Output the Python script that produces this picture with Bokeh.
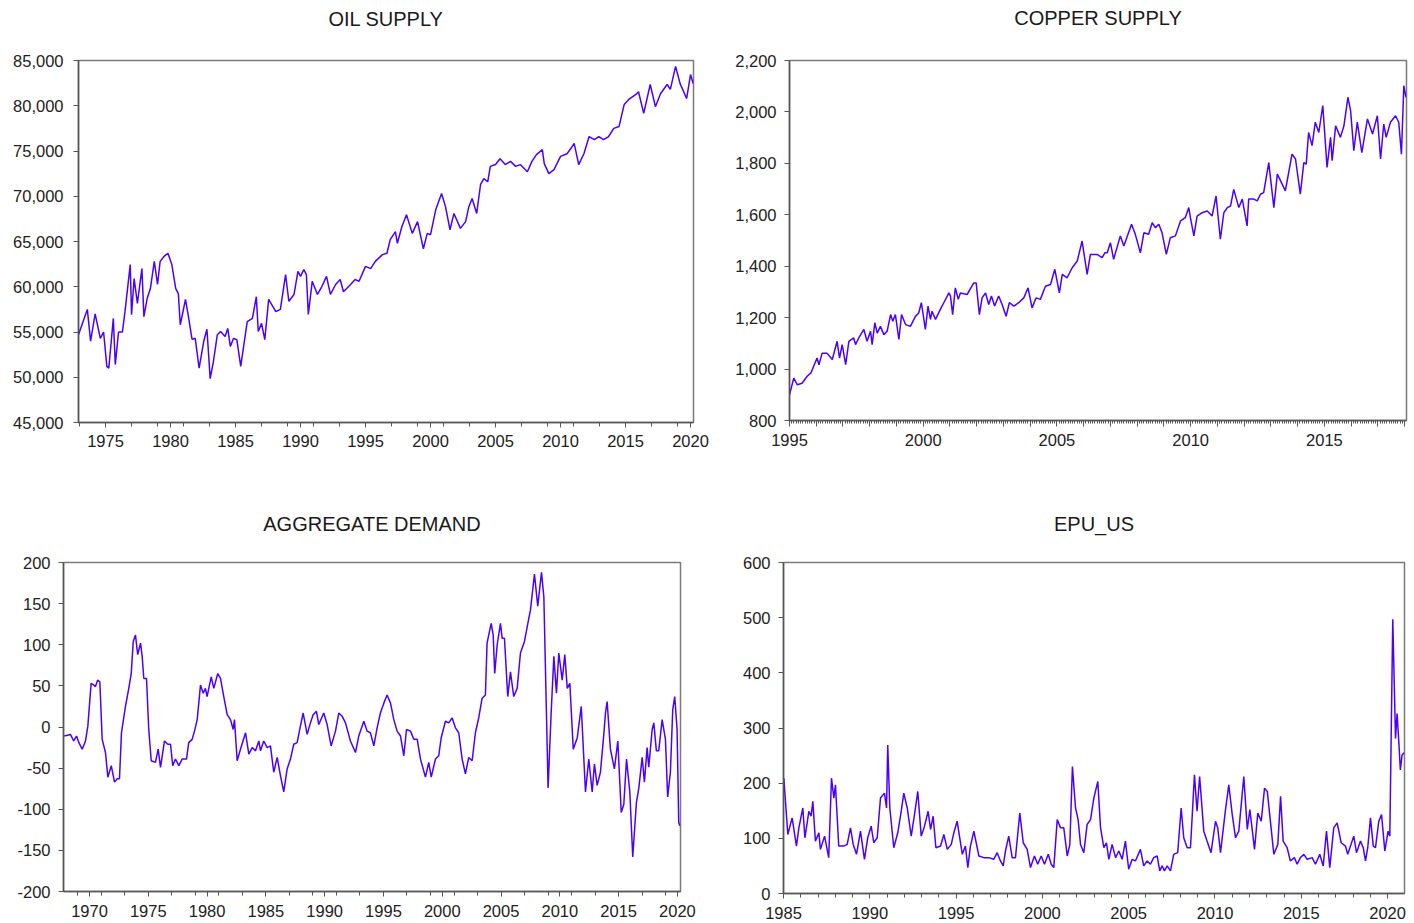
from bokeh.plotting import figure
from bokeh.layouts import row, column
from bokeh.models import (Range1d, FixedTicker, NumeralTickFormatter,
                          CustomJSTickFormatter, ColumnDataSource, Title)
from bokeh.embed import file_html
from bokeh.resources import INLINE

# ---------------- data ----------------
oil_t = [1972.92, 1973.6, 1973.85, 1974.2, 1974.6, 1974.85, 1975.1, 1975.25, 1975.6, 1975.75,
         1976.0, 1976.3, 1976.5, 1976.9, 1977.0, 1977.2, 1977.45, 1977.8, 1977.95, 1978.2,
         1978.45, 1978.75, 1979.0, 1979.2, 1979.5, 1979.8, 1980.1, 1980.4, 1980.6, 1980.75,
         1981.15, 1981.4, 1981.65, 1981.9, 1982.2, 1982.55, 1982.8, 1983.05, 1983.3, 1983.6,
         1983.85, 1984.2, 1984.4, 1984.6, 1984.85, 1985.1, 1985.4, 1985.6, 1985.9, 1986.3,
         1986.6, 1986.75, 1987.0, 1987.25, 1987.55, 1988.1, 1988.45, 1988.85, 1989.1, 1989.5,
         1989.8, 1990.0, 1990.25, 1990.45, 1990.6, 1990.9, 1991.3, 1991.65, 1992.0, 1992.3,
         1992.7, 1993.05, 1993.3, 1993.85, 1994.2, 1994.5, 1995.0, 1995.4, 1995.75, 1996.3,
         1996.65, 1996.9, 1997.3, 1997.45, 1997.8, 1998.15, 1998.6, 1999.0, 1999.45, 1999.75,
         2000.0, 2000.4, 2000.85, 2001.15, 2001.5, 2001.8, 2002.3, 2002.7, 2002.95, 2003.2,
         2003.55, 2003.85, 2004.1, 2004.4, 2004.6, 2005.0, 2005.35, 2005.75, 2006.15, 2006.55,
         2006.9, 2007.45, 2007.8, 2008.15, 2008.6, 2008.75, 2009.1, 2009.5, 2010.0, 2010.5,
         2010.9, 2011.05, 2011.4, 2011.8, 2012.2, 2012.6, 2012.95, 2013.3, 2013.7, 2014.1,
         2014.5, 2014.9, 2015.25, 2015.8, 2016.0, 2016.4, 2016.9, 2017.3, 2017.7, 2018.2,
         2018.45, 2018.85, 2019.2, 2019.7, 2020.0, 2020.2]
oil_v = [54700, 57500, 54000, 57000, 54300, 55000, 51200, 51000, 56500, 51400,
         55000, 55000, 57300, 62450, 56900, 60900, 58150, 62000, 56700, 58700,
         59800, 62800, 60250, 62800, 63350, 63700, 62450, 59800, 59250, 55800,
         58600, 56500, 54200, 54300, 51000, 53950, 55300, 49850, 51750, 54700,
         55050, 54500, 55400, 53400, 54300, 54150, 51200, 53200, 56150, 56500,
         58900, 55050, 55950, 54150, 58600, 57250, 57500, 61350, 58400, 59150,
         61700, 61150, 61900, 61350, 56950, 60600, 59150, 60050, 61150, 59150,
         60250, 60800, 59450, 60250, 60800, 60600, 62250, 62000, 62800, 63550,
         63700, 65200, 66100, 64800, 66650, 67950, 65900, 67200, 64200, 65900,
         65750, 68500, 70300, 68850, 66300, 68100, 66450, 67200, 68850, 69750,
         68100, 71300, 71950, 71600, 73300, 73500, 74150, 73500, 73850, 73300,
         73500, 72700, 73850, 74600, 75150, 73600, 72500, 72950, 74400, 74700,
         75500, 75850, 73500, 74700, 76600, 76250, 76600, 76250, 76600, 77500,
         77700, 80150, 80700, 81250, 81550, 79150, 82350, 79900, 81350, 82350,
         81800, 84350, 82450, 80800, 83450, 82450]

copper_t = [1995.0, 1995.16, 1995.29, 1995.47, 1995.66, 1995.8, 1995.9, 1996.03, 1996.1, 1996.22,
            1996.4, 1996.6, 1996.78, 1996.87, 1996.97, 1997.1, 1997.22, 1997.4, 1997.47, 1997.59,
            1997.78, 1997.9, 1998.03, 1998.09, 1998.19, 1998.28, 1998.4, 1998.53, 1998.65, 1998.78,
            1998.86, 1998.96, 1999.09, 1999.19, 1999.34, 1999.52, 1999.71, 1999.83, 1999.93, 2000.08,
            2000.18, 2000.27, 2000.33, 2000.46, 2000.64, 2000.77, 2000.96, 2001.02, 2001.1, 2001.2,
            2001.31, 2001.39, 2001.64, 2001.89, 2001.98, 2002.1, 2002.2, 2002.33, 2002.45, 2002.55,
            2002.67, 2002.82, 2002.95, 2003.1, 2003.22, 2003.39, 2003.57, 2003.76, 2003.92, 2004.07,
            2004.22, 2004.38, 2004.57, 2004.76, 2004.92, 2005.09, 2005.2, 2005.38, 2005.57, 2005.76,
            2005.94, 2006.13, 2006.25, 2006.5, 2006.69, 2006.79, 2006.88, 2007.0, 2007.12, 2007.37,
            2007.5, 2007.79, 2007.93, 2008.12, 2008.25, 2008.43, 2008.56, 2008.68, 2008.81, 2008.93,
            2009.09, 2009.24, 2009.43, 2009.62, 2009.8, 2009.93, 2009.99, 2010.12, 2010.24, 2010.43,
            2010.62, 2010.8, 2010.95, 2011.11, 2011.24, 2011.37, 2011.49, 2011.61, 2011.8, 2011.93,
            2012.11, 2012.17, 2012.36, 2012.49, 2012.61, 2012.73, 2012.92, 2013.11, 2013.24, 2013.42,
            2013.54, 2013.79, 2013.92, 2014.1, 2014.23, 2014.32, 2014.41, 2014.54, 2014.66, 2014.79,
            2014.94, 2015.1, 2015.23, 2015.29, 2015.42, 2015.6, 2015.73, 2015.88, 2015.98, 2016.1,
            2016.23, 2016.4, 2016.61, 2016.8, 2016.98, 2017.1, 2017.22, 2017.31, 2017.47, 2017.66,
            2017.78, 2017.88, 2017.97, 2018.05]
copper_v = [900, 965, 939, 945, 972, 985, 1010, 1043, 1017, 1062,
            1062, 1037, 1108, 1043, 1095, 1017, 1108, 1121, 1095, 1121,
            1154, 1108, 1147, 1095, 1180, 1140, 1166, 1134, 1147, 1212,
            1186, 1212, 1115, 1212, 1173, 1166, 1205, 1218, 1258, 1154,
            1245, 1193, 1225, 1193, 1232, 1258, 1296, 1284, 1212, 1316,
            1271, 1296, 1290, 1335, 1335, 1212, 1277, 1296, 1251, 1284,
            1245, 1284, 1251, 1205, 1258, 1245, 1258, 1277, 1316, 1238,
            1277, 1271, 1322, 1329, 1388, 1296, 1368, 1355, 1394, 1420,
            1498, 1368, 1446, 1446, 1433, 1452, 1452, 1491, 1427, 1518,
            1479, 1563, 1524, 1452, 1530, 1524, 1569, 1550, 1563, 1530,
            1446, 1511, 1518, 1576, 1589, 1628, 1589, 1518, 1595, 1608,
            1615, 1595, 1673, 1505, 1608, 1628, 1634, 1699, 1628, 1661,
            1557, 1661, 1661, 1654, 1680, 1686, 1803, 1628, 1758, 1719,
            1693, 1836, 1817, 1680, 1803, 1797, 1920, 1869, 1960, 1920,
            2025, 1784, 1901, 1810, 1946, 1901, 1946, 2057, 2005, 1849,
            1960, 1842, 1973, 1914, 1985, 1817, 1953, 1901, 1960, 1985,
            1960, 1836, 2102, 2057]

demand_t = [1967.85, 1968.38, 1968.66, 1968.9, 1969.1, 1969.38, 1969.66, 1969.86, 1970.14, 1970.37,
            1970.5, 1970.7, 1970.88, 1971.08, 1971.36, 1971.56, 1971.85, 1972.13, 1972.36, 1972.55,
            1972.72, 1973.06, 1973.34, 1973.55, 1973.72, 1973.91, 1974.1, 1974.34, 1974.48, 1974.62,
            1974.85, 1975.04, 1975.25, 1975.61, 1975.84, 1976.04, 1976.38, 1976.66, 1976.89, 1977.08,
            1977.31, 1977.6, 1977.88, 1978.25, 1978.44, 1978.73, 1978.93, 1979.16, 1979.44, 1979.67,
            1979.86, 1980.0, 1980.35, 1980.57, 1980.91, 1981.14, 1981.42, 1981.71, 1981.99, 1982.22,
            1982.33, 1982.56, 1982.84, 1983.27, 1983.55, 1983.84, 1984.12, 1984.4, 1984.54, 1984.82,
            1985.11, 1985.39, 1985.67, 1985.96, 1986.24, 1986.52, 1986.81, 1987.09, 1987.37, 1987.66,
            1987.88, 1988.17, 1988.51, 1988.79, 1989.02, 1989.3, 1989.5, 1989.92, 1990.21, 1990.55,
            1990.92, 1991.2, 1991.49, 1991.77, 1992.19, 1992.62, 1992.9, 1993.33, 1993.61, 1993.89,
            1994.18, 1994.46, 1994.74, 1995.03, 1995.31, 1995.6, 1995.88, 1996.16, 1996.45, 1996.73,
            1996.96, 1997.3, 1997.58, 1997.87, 1998.15, 1998.57, 1998.85, 1999.06, 1999.42, 1999.7,
            1999.91, 2000.27, 2000.55, 2000.84, 2001.12, 2001.4, 2001.69, 2001.97, 2002.25, 2002.54,
            2002.82, 2003.1, 2003.39, 2003.67, 2003.81, 2004.16, 2004.33, 2004.46, 2004.67, 2004.95,
            2005.09, 2005.29, 2005.57, 2005.8, 2006.08, 2006.37, 2006.65, 2006.99, 2007.36, 2007.5,
            2007.84, 2008.12, 2008.44, 2008.64, 2009.0, 2009.26, 2009.49, 2009.71, 2009.91, 2010.2,
            2010.42, 2010.63, 2010.85, 2011.14, 2011.48, 2011.82, 2012.18, 2012.46, 2012.75, 2012.94,
            2013.17, 2013.45, 2013.74, 2013.88, 2014.02, 2014.3, 2014.64, 2014.93, 2015.22, 2015.44,
            2015.67, 2015.95, 2016.2, 2016.51, 2016.71, 2017.0, 2017.19, 2017.42, 2017.56, 2017.85,
            2017.99, 2018.21, 2018.41, 2018.7, 2018.98, 2019.17, 2019.4, 2019.6, 2019.77, 2019.97,
            2020.11, 2020.2]
demand_v = [-11, -9, -17, -11, -19, -27, -17, 1, 53, 51,
            49, 57, 55, -15, -31, -61, -47, -67, -63, -63,
            -7, 25, 47, 65, 104, 112, 88, 102, 86, 59,
            59, -3, -41, -43, -27, -49, -17, -21, -21, -47,
            -39, -47, -39, -39, -19, -15, -5, 9, 51, 41,
            47, 37, 61, 47, 65, 59, 37, 15, 9, -3,
            9, -41, -27, -7, -33, -25, -29, -17, -29, -17,
            -25, -23, -55, -37, -59, -79, -51, -39, -21, -19,
            -3, 17, -9, 5, 15, 19, 3, 17, 3, -23,
            -5, 17, 13, 5, -17, -31, -11, 7, -5, -7,
            -23, -1, 17, 29, 39, 29, 9, -5, -11, -35,
            -3, -5, -15, -15, -39, -61, -43, -61, -39, -35,
            -13, 7, 5, 11, -1, -7, -39, -57, -37, -41,
            -7, 11, 35, 39, 102, 126, 112, 65, 100, 126,
            108, 108, 37, 67, 37, 47, 90, 104, 132, 142,
            186, 147, 188, 158, -74, 17, 86, 41, 90, 57,
            88, 47, 53, -27, -13, 25, -79, -39, -79, -45,
            -71, -55, -9, 17, 31, -27, -51, -17, -104, -94,
            -39, -79, -158, -92, -75, -37, -67, -25, -49, -3,
            5, -29, -29, 9, -15, -85, -55, 21, 37, -3,
            -116, -120]

epu_t = [1985.02, 1985.25, 1985.5, 1985.75, 1985.89, 1986.12, 1986.24, 1986.47, 1986.6, 1986.7,
         1986.85, 1987.05, 1987.14, 1987.38, 1987.62, 1987.78, 1987.92, 1988.01, 1988.2, 1988.49,
         1988.69, 1988.88, 1989.04, 1989.23, 1989.46, 1989.69, 1989.88, 1990.08, 1990.23, 1990.43,
         1990.62, 1990.85, 1990.97, 1991.04, 1991.16, 1991.39, 1991.62, 1991.82, 1991.97, 1992.17,
         1992.4, 1992.59, 1992.78, 1992.98, 1993.17, 1993.38, 1993.52, 1993.67, 1993.83, 1994.1,
         1994.29, 1994.49, 1994.72, 1994.87, 1995.06, 1995.36, 1995.54, 1995.68, 1995.83, 1996.03,
         1996.32, 1996.61, 1996.9, 1997.18, 1997.38, 1997.57, 1997.73, 1997.86, 1998.05, 1998.25,
         1998.44, 1998.69, 1998.89, 1999.12, 1999.31, 1999.54, 1999.73, 1999.93, 2000.12, 2000.34,
         2000.51, 2000.66, 2000.86, 2001.05, 2001.24, 2001.44, 2001.59, 2001.74, 2001.92, 2002.07,
         2002.21, 2002.4, 2002.59, 2002.79, 2002.98, 2003.21, 2003.37, 2003.56, 2003.71, 2003.85,
         2004.04, 2004.24, 2004.43, 2004.62, 2004.81, 2005.0, 2005.2, 2005.39, 2005.68, 2005.87,
         2006.07, 2006.26, 2006.45, 2006.65, 2006.8, 2006.94, 2007.07, 2007.23, 2007.42, 2007.61,
         2007.84, 2008.04, 2008.19, 2008.39, 2008.58, 2008.81, 2008.96, 2009.11, 2009.35, 2009.54,
         2009.77, 2010.03, 2010.16, 2010.32, 2010.61, 2010.8, 2011.0, 2011.19, 2011.38, 2011.67,
         2011.87, 2012.02, 2012.29, 2012.48, 2012.68, 2012.87, 2013.03, 2013.22, 2013.41, 2013.64,
         2013.8, 2013.95, 2014.18, 2014.37, 2014.6, 2014.76, 2014.95, 2015.15, 2015.34, 2015.63,
         2015.82, 2016.07, 2016.27, 2016.46, 2016.65, 2016.88, 2017.08, 2017.31, 2017.56, 2017.69,
         2017.85, 2018.04, 2018.2, 2018.43, 2018.59, 2018.72, 2018.85, 2019.01, 2019.17, 2019.3,
         2019.49, 2019.65, 2019.84, 2020.03, 2020.13, 2020.3, 2020.46, 2020.55, 2020.65, 2020.74,
         2020.84, 2020.95]
epu_v = [209, 107, 137, 86, 119, 155, 101, 149, 140, 167,
         95, 110, 80, 104, 65, 209, 173, 197, 86, 86,
         89, 119, 89, 71, 113, 62, 101, 122, 92, 101,
         173, 182, 155, 269, 155, 83, 110, 149, 182, 155,
         104, 143, 185, 104, 122, 149, 116, 140, 83, 86,
         107, 80, 89, 110, 131, 71, 86, 47, 86, 113,
         68, 65, 65, 62, 74, 59, 50, 77, 104, 65,
         65, 146, 92, 80, 47, 68, 53, 68, 53, 71,
         53, 47, 134, 119, 119, 68, 89, 230, 155, 134,
         89, 74, 125, 134, 173, 203, 119, 83, 92, 62,
         89, 65, 77, 62, 95, 44, 62, 59, 80, 50,
         59, 53, 65, 68, 41, 50, 41, 50, 41, 71,
         74, 155, 101, 83, 83, 215, 149, 212, 113, 95,
         74, 131, 119, 74, 152, 197, 143, 101, 113, 212,
         116, 152, 80, 146, 131, 191, 185, 128, 71, 89,
         176, 95, 83, 59, 65, 53, 65, 71, 62, 65,
         53, 71, 50, 113, 47, 119, 128, 92, 86, 71,
         86, 104, 74, 95, 83, 59, 83, 137, 86, 83,
         131, 143, 77, 113, 104, 497, 281, 326, 275, 224,
         251, 255]

oil_yticks = [45000, 50000, 55000, 60000, 65000, 70000, 75000, 80000, 85000]
copper_yticks = [800, 1000, 1200, 1400, 1600, 1800, 2000, 2200]
demand_yticks = [-200, -150, -100, -50, 0, 50, 100, 150, 200]
epu_yticks = [0, 100, 200, 300, 400, 500, 600]

oil_xlabels = [1975, 1980, 1985, 1990, 1995, 2000, 2005, 2010, 2015, 2020]
copper_xlabels = [1995, 2000, 2005, 2010, 2015]
demand_xlabels = [1970, 1975, 1980, 1985, 1990, 1995, 2000, 2005, 2010, 2015, 2020]
epu_xlabels = [1985, 1990, 1995, 2000, 2005, 2010, 2015, 2020]

FONT = "Liberation Sans"
LINE_COLOR = "#4a00ff"


def panel(title, t, v, xr, yr, yticks, xmajor, xminor, fw, fh,
          bl, br, bt, bb, yfmt, title_standoff, spacer,
          xfmt=None, major_out=5, minor_out=4, ystandoff=8, xstandoff=10):
    p = figure(frame_width=fw, frame_height=fh,
               x_range=Range1d(*xr), y_range=Range1d(*yr),
               output_backend="svg", toolbar_location=None,
               title_location=None,
               min_border_left=bl, min_border_right=br,
               min_border_top=bt, min_border_bottom=bb,
               background_fill_color="white", border_fill_color="white")
    src = ColumnDataSource(dict(t=t, v=v))
    p.line("t", "v", source=src, line_color=LINE_COLOR, line_width=1.5)

    if spacer > 0:
        p.add_layout(Title(text=" ", text_font_size="1px", standoff=spacer), "above")
    p.add_layout(Title(text=title, align="center", text_font=FONT,
                       text_font_size="20px", text_font_style="normal",
                       text_color="#1a1a1a", standoff=title_standoff), "above")

    p.xgrid.visible = False
    p.ygrid.visible = False
    p.outline_line_color = "#7a7a7a"
    p.outline_line_width = 1.5

    for ax in (p.xaxis[0], p.yaxis[0]):
        ax.axis_line_color = "#555555"
        ax.axis_line_width = 1.5
        ax.major_tick_line_color = "#555555"
        ax.minor_tick_line_color = "#555555"
        ax.major_tick_in = 0
        ax.minor_tick_in = 0
        ax.major_label_text_font = FONT
        ax.major_label_text_font_size = "16.5px"
        ax.major_label_text_color = "#222222"

    p.yaxis.ticker = FixedTicker(ticks=yticks)
    p.yaxis.formatter = yfmt
    p.yaxis.major_tick_out = 5
    p.yaxis.minor_tick_line_color = None
    p.yaxis.major_label_standoff = ystandoff

    p.xaxis.ticker = FixedTicker(ticks=xmajor, minor_ticks=xminor)
    if xfmt is not None:
        p.xaxis.formatter = xfmt
    else:
        p.xaxis.formatter = NumeralTickFormatter(format="0")
    p.xaxis.major_tick_out = major_out
    p.xaxis.minor_tick_out = minor_out
    p.xaxis.major_label_standoff = xstandoff
    return p


comma = NumeralTickFormatter(format="0,0")
plain = NumeralTickFormatter(format="0")
every5 = CustomJSTickFormatter(code="const y = Math.round(tick); return (y % 5 === 0) ? String(y) : '';")

p1 = panel("OIL SUPPLY", oil_t, oil_v, (1972.92, 2020.23), (45000, 85000),
           oil_yticks, oil_xlabels, list(range(1973, 2021, 2)),
           615, 362, 78, 25, 59, 59, comma, 6, 25, ystandoff=10, xstandoff=7)
p2 = panel("COPPER SUPPLY", copper_t, copper_v, (1995.0, 2018.07), (800, 2200),
           copper_yticks, list(range(1995, 2019)),
           [1995 + m / 12 for m in range(0, 12 * 23 + 1)],
           617, 360, 71, 8, 60, 60, comma, 6, 26, xfmt=every5, major_out=6, minor_out=3,
           xstandoff=7)
p3 = panel("AGGREGATE DEMAND", demand_t, demand_v, (1967.79, 2020.26), (-200, 200),
           demand_yticks, demand_xlabels, list(range(1969, 2021, 2)),
           617, 329, 63, 25, 82, 32, plain, 56, 0, xstandoff=8)
p4 = panel("EPU_US", epu_t, epu_v, (1985.0, 2020.98), (0, 600),
           epu_yticks, epu_xlabels, list(range(1986, 2021, 1)),
           621, 331, 78, 10, 81, 31, plain, 56, 0, xstandoff=8)

layout = column(row(p1, p2), row(p3, p4))
open("out.html", "w").write(file_html(layout, INLINE))
